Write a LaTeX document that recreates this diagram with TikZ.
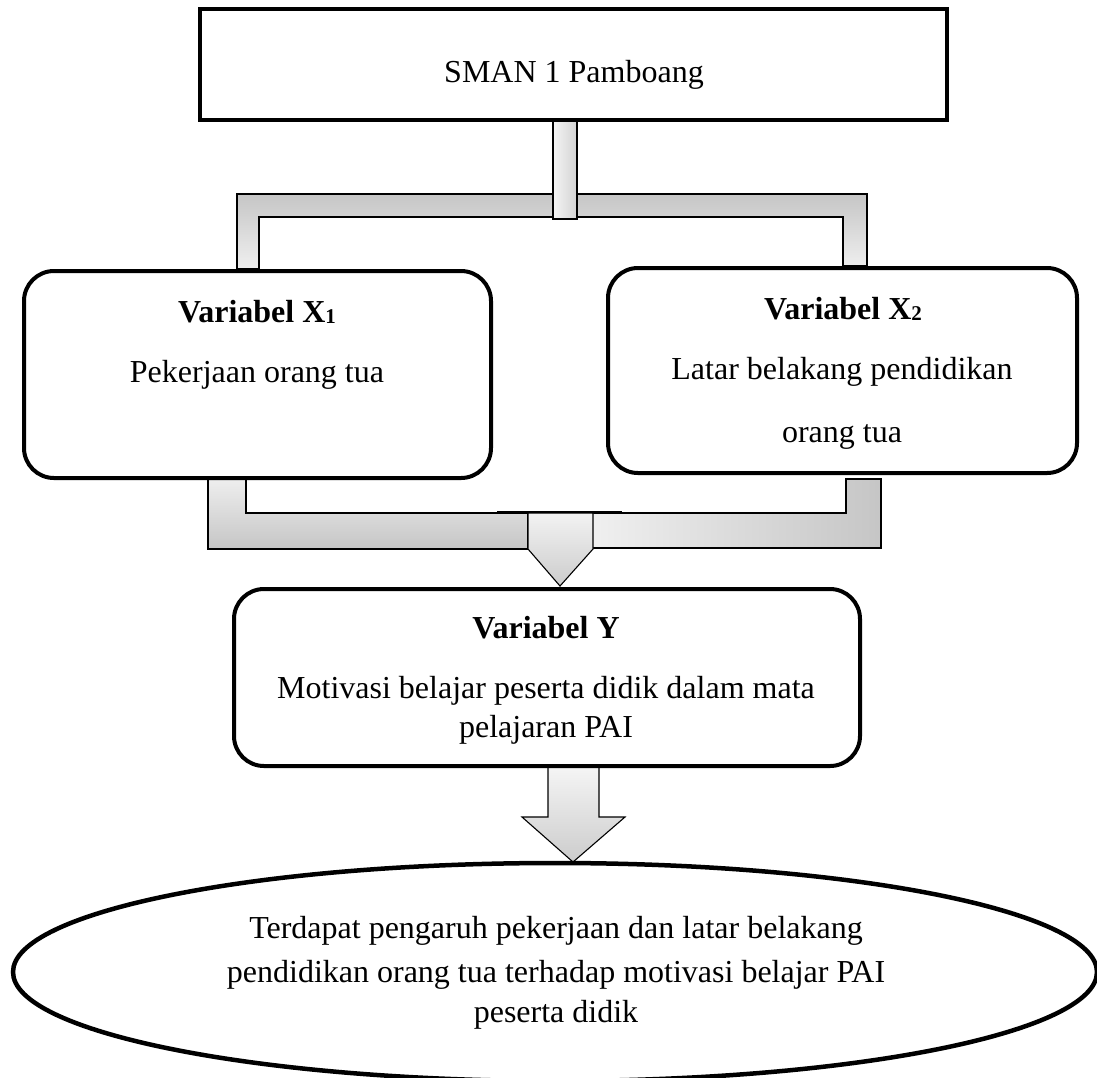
\documentclass[tikz,border=0pt]{standalone}
\usepackage{fontspec}
\setmainfont{Liberation Serif}
\usetikzlibrary{shapes.geometric}
\begin{document}
\begin{tikzpicture}[x=1pt,y=-1pt,
  txt/.style={anchor=base,inner sep=0pt,font=\fontsize{32}{37}\selectfont},
  sqbox/.style={draw=black,line width=4pt,fill=white},
  rbox/.style={draw=black,line width=4pt,fill=white,rounded corners=30pt},
  conn/.style={draw=black,line width=1.1pt},
]
\useasboundingbox (0,0) rectangle (1097,1077);
\newcommand{\subdig}[1]{\raisebox{-1.5pt}{\fontsize{21}{21}\selectfont #1}}

% ---------- connectors (block arrows) ----------
% top bracket
\shade[conn,top color=gray!45,bottom color=gray!12]
  (237,269) -- (237,194) -- (867,194) -- (867,266) -- (843,266) -- (843,217)
  -- (259,217) -- (259,269) -- cycle;
\shade[conn,left color=gray!8,right color=gray!35]
  (553,119) rectangle (577,219);

% bottom bracket, left part
\shade[conn,top color=gray!12,bottom color=gray!45]
  (208,476) -- (246,476) -- (246,513) -- (528,513) -- (528,549) -- (208,549) -- cycle;
% bottom bracket, right part
\shade[conn,left color=gray!12,right color=gray!45]
  (881,479) -- (846,479) -- (846,513) -- (592,513) -- (592,548) -- (881,548) -- cycle;
% merging arrow
\shade[conn,top color=gray!10,bottom color=gray!40]
  (528,513) -- (593,513) -- (593,549) -- (560,586) -- (528,549) -- cycle;
\draw[line width=1.5pt] (497,512) -- (622,512);

% arrow Y -> conclusion
\shade[conn,top color=gray!8,bottom color=gray!40]
  (548,767) -- (599,767) -- (599,817) -- (625,817) -- (573,862) -- (522,817)
  -- (548,817) -- cycle;

% ---------- boxes ----------
\node[sqbox,minimum width=747pt,minimum height=111pt] (top) at (573.5,64.5) {};
\node[rbox,minimum width=467pt,minimum height=207pt] (xone) at (257.5,374.5) {};
\node[rbox,minimum width=469pt,minimum height=205pt] (xtwo) at (842.5,370.5) {};
\node[rbox,minimum width=626pt,minimum height=177pt] (yvar) at (547,677.5) {};
\node[ellipse,draw=black,line width=4.5pt,fill=white,minimum width=1084pt,minimum height=218pt] (concl) at (555,972) {};

% ---------- texts ----------
\node[txt] (toptxt) at (574,82) {SMAN 1 Pamboang};

\node[txt,font=\fontsize{32}{37}\selectfont\bfseries] (xonet) at (257,322) {Variabel X\subdig{1}};
\node[txt] (xoned) at (257,382) {Pekerjaan orang tua};

\node[txt,font=\fontsize{32}{37}\selectfont\bfseries] (xtwot) at (843,319) {Variabel X\subdig{2}};
\node[txt] (xtwod) at (842,379) {Latar belakang pendidikan};
\node[txt] (xtwoe) at (842,442) {orang tua};

\node[txt,font=\fontsize{32}{37}\selectfont\bfseries] (yt) at (546,638) {Variabel Y};
\node[txt] (yd) at (546,698) {Motivasi belajar peserta didik dalam mata};
\node[txt] (ye) at (546,737) {pelajaran PAI};

\node[txt] (c1) at (556,938) {Terdapat pengaruh pekerjaan dan latar belakang};
\node[txt] (c2) at (556,982) {pendidikan orang tua terhadap motivasi belajar PAI};
\node[txt] (c3) at (556,1022) {peserta didik};
\end{tikzpicture}
\end{document}
